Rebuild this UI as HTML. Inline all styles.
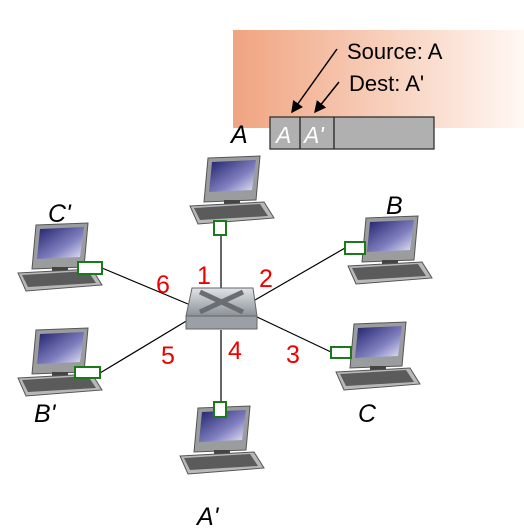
<!DOCTYPE html>
<html><head><meta charset="utf-8"><style>
html,body{margin:0;padding:0;background:#fff;width:524px;height:529px;overflow:hidden}
text{font-family:"Liberation Sans",sans-serif}
</style></head><body>
<svg width="524" height="529" viewBox="0 0 524 529">
<defs>
<linearGradient id="og" x1="0" x2="1" y1="0" y2="0"><stop offset="0" stop-color="#f0a480"/><stop offset="0.55" stop-color="#f8d2bf"/><stop offset="1" stop-color="#fff8f4"/></linearGradient>
<linearGradient id="scr" x1="0" y1="0" x2="1" y2="1"><stop offset="0" stop-color="#20206a"/><stop offset="0.6" stop-color="#8080c0"/><stop offset="1" stop-color="#e8e8f8"/></linearGradient>
<linearGradient id="sw" x1="0" y1="0" x2="0" y2="1"><stop offset="0" stop-color="#e0e4e8"/><stop offset="1" stop-color="#8a9096"/></linearGradient>
<marker id="ar" markerWidth="8" markerHeight="8" refX="7" refY="4" orient="auto"><path d="M0,0 L8,4 L0,8 z" fill="#000"/></marker>
<g id="pc">
<path d="M6,2 L58,0 L54,44 L2,46 Z" fill="#9a9c9e" stroke="#555" stroke-width="1"/>
<path d="M10,6 L54,4 L50,34 L7,36 Z" fill="url(#scr)"/>
<rect x="22" y="44" width="16" height="6" fill="#444"/>
<path d="M-12,50 L62,46 L72,62 L-4,68 Z" fill="#b8b8b8" stroke="#555"/>
<path d="M-8,52 L58,48 L66,60 L-2,64 Z" fill="#333" opacity="0.7"/>
</g>
</defs>
<rect x="233" y="30" width="291" height="98" fill="url(#og)"/>
<g>
<rect x="270" y="117" width="164" height="32" fill="#b0b0b0" stroke="#333" stroke-width="1.3"/>
<line x1="300" y1="117" x2="300" y2="149" stroke="#222" stroke-width="1.3"/>
<line x1="334" y1="117" x2="334" y2="149" stroke="#222" stroke-width="1.3"/>
<text x="276" y="143" font-size="23" fill="#fff" font-style="italic">A</text>
<text x="304" y="143" font-size="23" fill="#fff" font-style="italic">A'</text>
</g>
<text x="347" y="59" font-size="22">Source: A</text>
<text x="349" y="91" font-size="22">Dest: A'</text>
<line x1="337" y1="49" x2="292" y2="112" stroke="#000" stroke-width="1.5" marker-end="url(#ar)"/>
<line x1="339" y1="82" x2="315" y2="112" stroke="#000" stroke-width="1.5" marker-end="url(#ar)"/>
<g stroke="#000" stroke-width="1.2">
<line x1="221" y1="235" x2="221" y2="290"/>
<line x1="102" y1="268" x2="188" y2="304"/>
<line x1="345" y1="248" x2="255" y2="300"/>
<line x1="100" y1="373" x2="188" y2="320"/>
<line x1="331" y1="352" x2="255" y2="316"/>
<line x1="221" y1="403" x2="221" y2="330"/>
</g>
<g>
<path d="M192,288 L253,288 L257,316 L186,316 Z" fill="url(#sw)" stroke="#666"/>
<rect x="186" y="316" width="71" height="13" fill="#9aa0a6" stroke="#666"/>
<path d="M200,292 L243,312 M243,292 L200,312" stroke="#6a6e72" stroke-width="5"/>
</g>
<use href="#pc" x="202" y="156"/>
<use href="#pc" x="30" y="223"/>
<use href="#pc" x="360" y="216"/>
<use href="#pc" x="30" y="328"/>
<use href="#pc" x="348" y="322"/>
<use href="#pc" x="192" y="406"/>
<g fill="#fff" stroke="#1a7a1a" stroke-width="2">
<rect x="214" y="221" width="12" height="14"/>
<rect x="78" y="262" width="24" height="12"/>
<rect x="345" y="242" width="20" height="12"/>
<rect x="75" y="367" width="25" height="11"/>
<rect x="331" y="347" width="20" height="11"/>
<rect x="214" y="402" width="12" height="15"/>
</g>
<g font-size="25" fill="#e00">
<text x="197" y="284">1</text><text x="259" y="287">2</text><text x="286" y="363">3</text>
<text x="228" y="359">4</text><text x="161" y="364">5</text><text x="156" y="293">6</text>
</g>
<g font-size="25" font-style="italic">
<text x="231" y="143">A</text><text x="48" y="222">C'</text><text x="386" y="214">B</text>
<text x="34" y="422">B'</text><text x="358" y="422">C</text><text x="197" y="525">A'</text>
</g>
</svg>
</body></html>
